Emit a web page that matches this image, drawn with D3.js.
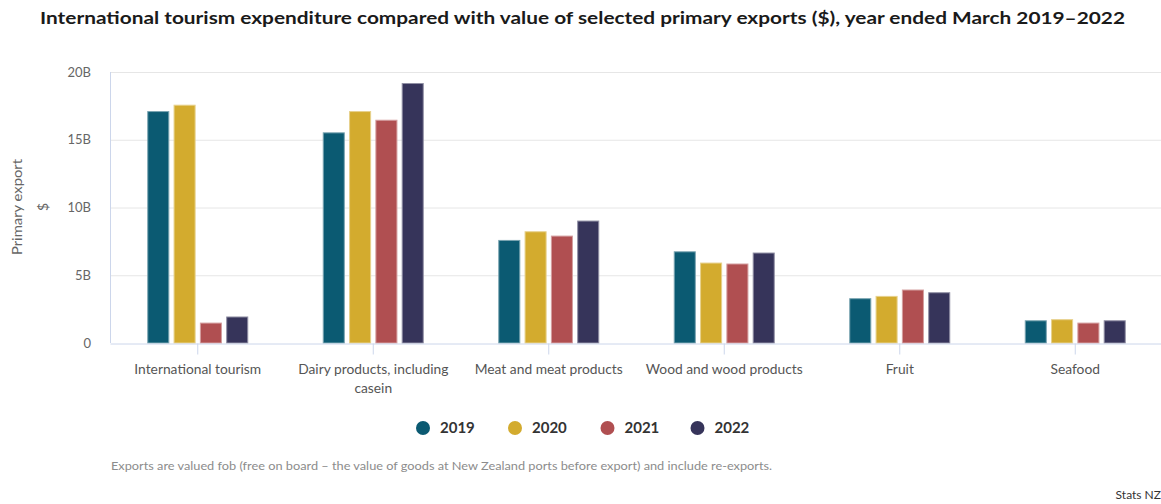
<!DOCTYPE html>
<html>
<head>
<meta charset="utf-8">
<script src="https://cdn.jsdelivr.net/npm/d3@7"></script>
<style>
  html, body { margin: 0; padding: 0; background: #fff; }
  svg { display: block; font-family: Lato, "Liberation Sans", sans-serif; }
</style>
</head>
<body>
<svg id="chart" width="1161" height="504"></svg>
<script>
// Export categories (x axis)
const categories = [
  "International tourism",
  "Dairy products, including casein",
  "Meat and meat products",
  "Wood and wood products",
  "Fruit",
  "Seafood"
];
// Years ended March (series)
const years = ["2019", "2020", "2021", "2022"];
// Values in billions of dollars, one array per year, in category order
const values2019 = [17.08, 15.51, 7.57, 6.73, 3.27, 1.64];
const values2020 = [17.55, 17.08, 8.21, 5.90, 3.44, 1.72];
const values2021 = [1.47, 16.44, 7.89, 5.83, 3.91, 1.47];
const values2022 = [1.92, 19.15, 9.00, 6.64, 3.71, 1.64];
const yTicks = [0, 5, 10, 15, 20];
const yTickLabels = ["0", "5B", "10B", "15B", "20B"];
const colors = ["#0b5a72", "#d3ab2e", "#b04f51", "#36345a"];

const seriesValues = [values2019, values2020, values2021, values2022];
const rows = categories.map((c, i) => ({
  category: c,
  values: years.map((y, j) => ({ year: y, value: seriesValues[j][i] }))
}));

const svg = d3.select("#chart");
const plotLeft = 110, plotRight = 1163, plotTop = 72, plotBottom = 343;

const x = d3.scaleBand().domain(categories).range([plotLeft, plotRight]);
const groupWidth = 100;
const xSub = d3.scaleBand().domain(years).range([0, groupWidth]).paddingInner(0.2);
const y = d3.scaleLinear().domain([0, 20]).range([plotBottom, plotTop]);
const color = d3.scaleOrdinal().domain(years).range(colors);

// Title
svg.append("text")
  .attr("x", 40).attr("y", 24)
  .attr("font-size", 17).attr("font-weight", 700).attr("fill", "#1a1a1a")
  .attr("textLength", 1085).attr("lengthAdjust", "spacingAndGlyphs")
  .text("International tourism expenditure compared with value of selected primary exports ($), year ended March 2019–2022");

// Horizontal gridlines
svg.append("g")
  .selectAll("line")
  .data(yTicks.filter(t => t > 0))
  .join("line")
  .attr("x1", plotLeft).attr("x2", plotRight)
  .attr("y1", d => y(d) + 0.5).attr("y2", d => y(d) + 0.5)
  .attr("stroke", "#e6e6e6").attr("stroke-width", 1);

// Y axis line
svg.append("line")
  .attr("x1", plotLeft + 0.5).attr("x2", plotLeft + 0.5)
  .attr("y1", y(20)).attr("y2", y(0))
  .attr("stroke", "#ccd6eb");

// Y axis tick labels
const yAxis = d3.axisLeft(y).tickValues(yTicks)
  .tickFormat((d, i) => yTickLabels[i]).tickSize(0).tickPadding(19);
const gy = svg.append("g").attr("transform", `translate(${plotLeft},0)`).call(yAxis);
gy.select(".domain").remove();
gy.selectAll("text")
  .attr("font-family", "Lato, 'Liberation Sans', sans-serif")
  .attr("font-size", 13).attr("fill", "#666");

// Y axis title (two lines, rotated)
const yTitle = svg.append("text")
  .attr("transform", `translate(22,207) rotate(-90)`)
  .attr("text-anchor", "middle")
  .attr("font-size", 14).attr("fill", "#666");
yTitle.append("tspan").attr("x", 0).attr("dy", 0)
  .attr("textLength", 96).attr("lengthAdjust", "spacingAndGlyphs")
  .text("Primary export");
yTitle.append("tspan").attr("x", 0).attr("dy", 26).text("$");

// Bars
const groups = svg.append("g")
  .selectAll("g")
  .data(rows)
  .join("g")
  .attr("transform", d => `translate(${x(d.category) + x.bandwidth() / 2 - groupWidth / 2},0)`);

groups.selectAll("rect")
  .data(d => d.values)
  .join("rect")
  .attr("x", d => xSub(d.year))
  .attr("y", d => y(d.value))
  .attr("width", xSub.bandwidth())
  .attr("height", d => y(0) - y(d.value))
  .attr("fill", d => color(d.year))
  .attr("stroke", d => d3.interpolateRgb(color(d.year), "#ffffff")(0.45))
  .attr("stroke-width", 1);

// X axis baseline and ticks at category centres
const xAxis = d3.axisBottom(x).tickSize(11).tickSizeOuter(0).tickFormat("");
const gx = svg.append("g").attr("transform", `translate(0,${plotBottom + 0.5})`).call(xAxis);
gx.select(".domain").attr("stroke", "#ccd6eb");
gx.selectAll(".tick line").attr("stroke", "#ccd6eb");

// Category labels (wrapped)
const labelLines = {
  "Dairy products, including casein": ["Dairy products, including", "casein"]
};
const catLabels = svg.append("g")
  .selectAll("text")
  .data(categories)
  .join("text")
  .attr("x", d => x(d) + x.bandwidth() / 2)
  .attr("y", 374)
  .attr("text-anchor", "middle")
  .attr("font-size", 13.8).attr("fill", "#555");
catLabels.each(function(d) {
  const lines = labelLines[d] || [d];
  const t = d3.select(this);
  lines.forEach((l, i) => {
    t.append("tspan").attr("x", x(d) + x.bandwidth() / 2).attr("dy", i === 0 ? 0 : 19).text(l);
  });
});

// Legend
const legendX = [423, 515, 607.5, 697.5];
const legend = svg.append("g")
  .selectAll("g")
  .data(years)
  .join("g")
  .attr("transform", (d, i) => `translate(${legendX[i]},428)`);
legend.append("circle").attr("r", 7).attr("fill", d => color(d));
legend.append("text")
  .attr("x", 17).attr("y", 5)
  .attr("font-size", 15).attr("font-weight", 700).attr("fill", "#333")
  .text(d => d);

// Footnote and credit
svg.append("text")
  .attr("x", 111).attr("y", 470)
  .attr("font-size", 11).attr("fill", "#8c8c8c")
  .attr("textLength", 661).attr("lengthAdjust", "spacingAndGlyphs")
  .text("Exports are valued fob (free on board – the value of goods at New Zealand ports before export) and include re-exports.");
svg.append("text")
  .attr("x", 1161).attr("y", 499)
  .attr("text-anchor", "end")
  .attr("font-size", 12).attr("fill", "#333")
  .text("Stats NZ");
</script>
</body>
</html>
